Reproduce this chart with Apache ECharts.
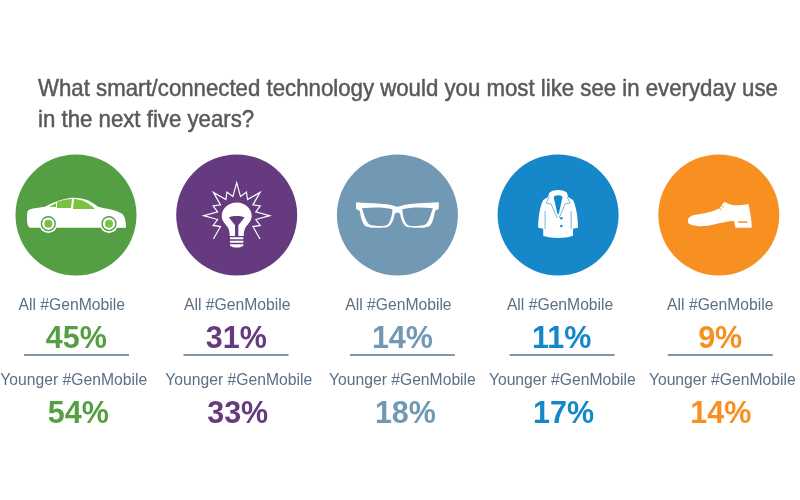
<!DOCTYPE html>
<html><head><meta charset="utf-8">
<style>html,body{margin:0;padding:0;background:#fff}#c{width:800px;height:500px}</style>
<script src="https://cdn.jsdelivr.net/npm/echarts@6/dist/echarts.min.js"></script>
</head><body><div id="c"></div>
<script>
const titleLines = ["What smart/connected technology would you most like see in everyday use", "in the next five years?"];
const categories = ["Car", "Light bulb", "Glasses", "Coat", "Shoe"];
const allGenMobile = [45, 31, 14, 11, 9];
const youngerGenMobile = [54, 33, 18, 17, 14];
const allLabel = "All #GenMobile";
const youngerLabel = "Younger #GenMobile";
const colors = ["#549e44", "#653a7f", "#7299b4", "#1688c9", "#f79021"];
const accent = "#7cc242";
const textColor = "#5a7086";
const ruleColor = "#5f7389";

// Layout: pixel offsets of each column's texts from its circle centre
const allDx = [-4.3, 0.5, 1, 2, 1.5];
const allPctDx = [0.3, -0.4, 5, 3.6, 1.4];
const ruleDx = [0.5, -0.7, 5, 4, 1.5];
const youngerDx = [-2.3, 2, 5, 4.2, 3.5];
const youngerPctDx = [2.3, 1, 8, 5.4, 2];

const P = {
  car: "M-49,5 C-49,0 -49,-4 -47,-5 C-42,-7 -36,-7 -31,-8 C-24,-12 -14,-16 -4,-17 C5,-17.5 14,-15 22,-8 C30,-6 40,-5 46,-1 C49,1 50,7 50,13 L-46,13 C-48,12 -49,9 -49,5 Z",
  win1: "M-27,-8 L-20,-12 L-20,-8 Z",
  win2: "M-19,-7 L-19,-13 C-14,-15 -9,-16 -4,-16 L-5,-7 Z",
  win3: "M-2,-16 C6,-16 13,-12 19,-6 L-3,-6 Z",
  glasses: "M-42,-12.7 C-25,-11 -12,-12 -3,-9 C-1,-8 1,-8 3,-9 C12,-12 30,-12 42,-12.7 L42,-6 C39,-5 38,-4 38,-3 C37,3 36,8 33,11 C30,13.5 18,13.5 11,12.7 C7,12 4,7 3,0 C2,-3 -2,-3 -3,0 C-4,7 -7,12 -11,12.7 C-18,13.5 -30,13.5 -33,11 C-36,8 -37,3 -38,-3 C-38,-4 -39,-5 -42,-6 Z",
  lensL: "M-36,-7 C-24,-8 -13,-8 -5,-6 C-5,-2 -6,3 -8,7 C-9,10 -11,11 -15,11 C-21,11 -28,11 -30,8 C-33,4 -34,-2 -36,-7 Z",
  lensR: "M36,-7 C24,-8 13,-8 5,-6 C5,-2 6,3 8,7 C9,10 11,11 15,11 C21,11 28,11 30,8 C33,4 34,-2 36,-7 Z",
  coat: "M-9,-22 C-6,-26 6,-26 9,-22 L10,-18 L15,-15 C18,-9 20,2 20,13 L15,14 L15,21 C6,24 -6,24 -15,21 L-15,14 L-20,13 C-20,2 -18,-9 -15,-15 L-10,-18 Z",
  coatV: "M-5,-20 C-2,-22 2,-22 5,-20 L1,-2 L0,0 L-1,-2 Z",
  coatSeam: "M-9,-18 L-12,-12 L-7,-11 L-1,3 M9,-18 L12,-12 L7,-11 L1,3 M-13,-4 L-13,14 M13,-4 L13,14",
  shoe: "M-31,6 C-31,1 -25,0 -19,-1 C-11,-2 -4,-4 1,-7 C3,-10 4,-12 6,-13.3 C10,-10 16,-9 24,-10 L29.7,-11 C31,-4 33,5 33,12.7 L16.7,12.7 L15.3,6 C9,6 2,8 -3,9 C-10,11 -17,11.5 -22,11 C-28,10 -31,9 -31,6 Z",
  bulb: "M0,-12.5 C9,-12.5 15,-6 15,1 C15,6 11,9 8.5,13 C7.5,15 7,18 7,21 L-7,21 C-7,18 -7.5,15 -8.5,13 C-11,9 -15,6 -15,1 C-15,-6 -9,-12.5 0,-12.5 Z",
  filament: "M-8,2 C-4,0 4,0 8,2 L1.7,10 L1.7,21 L-1.7,21 L-1.7,10 Z",
  base: "M-6.7,22 L6.7,22 L6.7,24 L-6.7,24 Z M-6.7,25.5 L6.7,25.5 L6.7,27.5 L-6.7,27.5 Z M-6.7,29 L6.7,29 L6.7,30.5 C3,33 -3,33 -6.7,30.5 Z"
};
function shape(d, fill, cx, cy, b) {
  return { type: "path", shape: { pathData: d, x: cx + b[0], y: cy + b[1], width: b[2], height: b[3] }, style: { fill } };
}
function icon(i, cx, cy, bg) {
  const W = "#fff";
  if (i === 0) {
    const wheel = (x) => [
      { type: "circle", shape: { cx: x, cy: cy + 8.7, r: 9.3 }, style: { fill: W } },
      { type: "circle", shape: { cx: x, cy: cy + 8.7, r: 7.6 }, style: { fill: bg } },
      { type: "circle", shape: { cx: x, cy: cy + 8.7, r: 6.2 }, style: { fill: W } },
      { type: "circle", shape: { cx: x, cy: cy + 8.7, r: 4 }, style: { fill: accent } }
    ];
    return [
      shape(P.car, W, cx, cy, [-49, -17.5, 99, 30.5]),
      shape(P.win1, accent, cx, cy, [-27, -12, 7, 4]),
      shape(P.win2, accent, cx, cy, [-19, -16, 15, 9]),
      shape(P.win3, accent, cx, cy, [-3, -16, 22, 10]),
      ...wheel(cx - 27.7), ...wheel(cx + 33)
    ];
  }
  if (i === 1) {
    const pts = [];
    const steps = 24;
    for (let k = 0; k <= steps; k++) {
      const a = Math.PI * (1.25 - k * 1.5 / steps);
      const r = k % 2 === 1 ? 19.5 : (k % 4 === 0 ? 33 : 25.5);
      pts.push([cx + r * Math.cos(a), cy + 0.7 - r * Math.sin(a)]);
    }
    return [
      { type: "polyline", shape: { points: pts }, style: { stroke: W, fill: null, lineWidth: 1.2, lineJoin: "miter", miterLimit: 8 } },
      shape(P.bulb, W, cx, cy, [-15, -12.5, 30, 33.5]),
      shape(P.filament, bg, cx, cy, [-8, 1, 16, 20]),
      shape(P.base, W, cx, cy, [-6.7, 22, 13.4, 10.8])
    ];
  }
  if (i === 2) {
    return [
      shape(P.glasses, W, cx, cy, [-42, -12.7, 84, 25.5]),
      shape(P.lensL, bg, cx, cy, [-35.5, -7.5, 30.5, 18.5]),
      shape(P.lensR, bg, cx, cy, [5, -7.5, 30.5, 18.5])
    ];
  }
  if (i === 3) {
    return [
      shape(P.coat, W, cx, cy, [-20, -25, 40, 48]),
      shape(P.coatV, bg, cx, cy, [-4.5, -20, 9, 20]),
      { type: "path", shape: { pathData: P.coatSeam, x: cx - 13, y: cy - 18, width: 26, height: 32 }, style: { fill: null, stroke: bg, lineWidth: 0.6 } },
      { type: "circle", shape: { cx: cx + 3.3, cy: cy + 3.3, r: 1.3 }, style: { fill: bg } },
      { type: "circle", shape: { cx: cx + 3.3, cy: cy + 11, r: 1.3 }, style: { fill: bg } }
    ];
  }
  return [
    shape(P.shoe, W, cx, cy, [-31, -13.3, 64, 26]),
    { type: "rect", shape: { x: cx + 19.5, y: cy + 6.3, width: 9, height: 1.5 }, style: { fill: bg } },
    { type: "polyline", shape: { points: [[cx - 1, cy - 8], [cx + 3, cy - 5]] }, style: { stroke: bg, lineWidth: 0.9 } },
    { type: "polyline", shape: { points: [[cx + 1, cy - 10.5], [cx + 5, cy - 7.5]] }, style: { stroke: bg, lineWidth: 0.9 } }
  ];
}
const font = '"Liberation Sans", Arial, sans-serif';
function text(str, x, y, size, color, weight) {
  return { type: "text", style: { text: str, x, y, fill: color, font: `${weight || 400} ${size}px ${font}`, align: "center", verticalAlign: "middle" } };
}
function renderItem(params, api) {
  const i = params.dataIndex;
  const cx = api.coord([i, 0])[0];
  const y = (v) => api.coord([i, v])[1];
  const c = colors[i];
  const cy = y(215);
  return {
    type: "group",
    children: [
      { type: "circle", shape: { cx, cy, r: 60.5 }, style: { fill: c } },
      ...icon(i, cx, cy, c),
      text(allLabel, cx + allDx[i], y(306), 15.7, textColor),
      text(api.value(1) + "%", cx + allPctDx[i], y(340), 30.5, c, 700),
      { type: "rect", shape: { x: cx + ruleDx[i] - 52.5, y: y(354.2), width: 105, height: 1.6 }, style: { fill: ruleColor } },
      text(youngerLabel, cx + youngerDx[i], y(381), 15.7, textColor),
      text(api.value(2) + "%", cx + youngerPctDx[i], y(415), 30.5, c, 700)
    ]
  };
}
const chart = echarts.init(document.getElementById("c"), null, { renderer: "canvas" });
chart.setOption({
  animation: false,
  backgroundColor: "#fff",
  graphic: titleLines.map((line, k) => ({
    type: "text", x: 38, y: 89 + k * 31.5, scaleX: 0.926,
    style: { text: line, fill: "#58595b", stroke: "#58595b", lineWidth: 0.5, font: `400 24px ${font}`, align: "left", verticalAlign: "middle" }
  })),
  grid: { left: 0, right: 0, top: 0, bottom: 0, containLabel: false },
  xAxis: { type: "value", min: -76 / 160.7, max: 724 / 160.7, show: false },
  yAxis: { type: "value", min: 0, max: 500, inverse: true, show: false },
  series: [{
    type: "custom",
    coordinateSystem: "cartesian2d",
    renderItem,
    encode: { x: 0, y: 1 },
    clip: false,
    data: categories.map((n, i) => [i, allGenMobile[i], youngerGenMobile[i]])
  }]
});
</script></body></html>
